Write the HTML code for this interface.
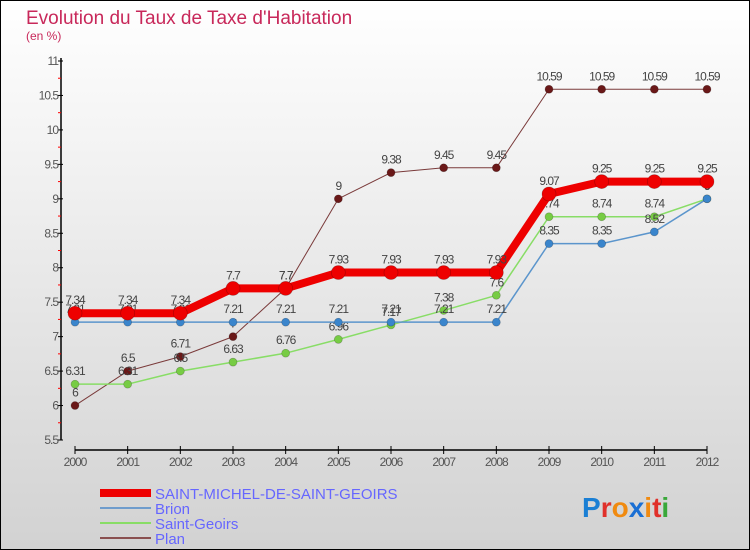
<!DOCTYPE html>
<html><head><meta charset="utf-8"><style>
body{margin:0;}
#wrap{width:750px;height:550px;position:relative;overflow:hidden;}
svg text{font-family:"Liberation Sans",sans-serif;}
</style></head><body>
<div id="wrap">
<svg id="chart" width="750" height="550" xmlns="http://www.w3.org/2000/svg">
<defs><linearGradient id="bg" x1="0" y1="0" x2="0" y2="1"><stop offset="0" stop-color="#ffffff"/><stop offset="1" stop-color="#d2d2d2"/></linearGradient></defs>
<rect x="0.5" y="0.5" width="749" height="549" fill="url(#bg)" stroke="#000"/>
<text x="26" y="24" font-size="19" fill="#c8285a">Evolution du Taux de Taxe d'Habitation</text>
<text x="26" y="40" font-size="12" fill="#c8285a">(en %)</text>
<g id="axes"></g><g id="series"></g>
<g>
<rect x="100" y="489" width="51" height="8" fill="#ee0000"/>
<text x="155" y="499" font-size="15" fill="#6666ff">SAINT-MICHEL-DE-SAINT-GEOIRS</text>
<line x1="100" y1="508" x2="151" y2="508" stroke="#6f9ccc" stroke-width="2"/>
<text x="155" y="514" font-size="15" fill="#6666ff">Brion</text>
<line x1="100" y1="523" x2="151" y2="523" stroke="#88dd66" stroke-width="2"/>
<text x="155" y="529" font-size="15" fill="#6666ff">Saint-Geoirs</text>
<line x1="100" y1="538" x2="151" y2="538" stroke="#8a5050" stroke-width="2"/>
<text x="155" y="544" font-size="15" fill="#6666ff">Plan</text>
</g>
<g font-size="28" font-weight="bold">
<text x="582" y="517"><tspan fill="#1a7fd4">P</tspan><tspan fill="#e0302a">r</tspan><tspan fill="#f08a10">o</tspan><tspan fill="#1a6fd4">x</tspan><tspan fill="#f08a10">i</tspan><tspan fill="#e0302a">t</tspan><tspan fill="#3aa83a">i</tspan></text>
</g>
</svg></div>
<script>
const years=["2000","2001","2002","2003","2004","2005","2006","2007","2008","2009","2010","2011","2012"];
const mainVals=[7.34,7.34,7.34,7.7,7.7,7.93,7.93,7.93,7.93,9.07,9.25,9.25,9.25];
const brionVals=[7.21,7.21,7.21,7.21,7.21,7.21,7.21,7.21,7.21,8.35,8.35,8.52,9];
const geoirsVals=[6.31,6.31,6.5,6.63,6.76,6.96,7.17,7.38,7.6,8.74,8.74,8.74,9];
const planVals=[6,6.5,6.71,7,7.7,9,9.38,9.45,9.45,10.59,10.59,10.59,10.59];
const yTicks=[5.5,6,6.5,7,7.5,8,8.5,9,9.5,10,10.5,11];
const NS="http://www.w3.org/2000/svg";
function xs(i){return 75+i*(707-75)/12;}
function ys(v){return 440-(v-5.5)*(440-61)/5.5;}
function mk(tag,attrs,parent){const e=document.createElementNS(NS,tag);for(const k in attrs)e.setAttribute(k,attrs[k]);parent.appendChild(e);return e;}
const ax=document.getElementById('axes');
const yaxis=mk('line',{x1:61,y1:58,x2:61,y2:440,stroke:'#000','stroke-width':1.5},ax);


yTicks.forEach(t=>{
  mk('line',{x1:58,y1:ys(t),x2:63,y2:ys(t),stroke:'#000'},ax);
  if(t<11)mk('line',{x1:58,y1:ys(t+0.25),x2:61,y2:ys(t+0.25),stroke:'#ff0000'},ax);
  const tx=mk('text',{x:58,y:ys(t)+4,'font-size':12,fill:'#555','text-anchor':'end','letter-spacing':'-1'},ax);
  tx.textContent=String(t);
  
  
});
const xaxis=mk('line',{x1:75,y1:450,x2:707,y2:450,stroke:'#000','stroke-width':1.5},ax);


years.forEach((y,i)=>{
  mk('line',{x1:xs(i),y1:446,x2:xs(i),y2:454,stroke:'#000'},ax);
  const tx=mk('text',{x:xs(i),y:466,'font-size':12,fill:'#555','text-anchor':'middle','letter-spacing':'-1'},ax);
  tx.textContent=y;
  
  
});
const sg=document.getElementById('series');
function series(vals,color,w,r,dot,name){
  const g=mk('g',{},sg);
  
  
  const p=mk('polyline',{points:vals.map((v,i)=>xs(i)+','+ys(v)).join(' '),fill:'none',stroke:color,'stroke-width':w,'stroke-linejoin':'round'},g);
  
  
  vals.forEach((v,i)=>{
    const c=mk('circle',{cx:xs(i),cy:ys(v),r:r,fill:dot,stroke:'rgba(0,0,0,0.25)','stroke-width':0.7},g);
    
    
    const t=mk('text',{x:xs(i),y:ys(v)-9,'font-size':12,fill:'#444','text-anchor':'middle','letter-spacing':'-1'},g);
    t.textContent=String(v);
    
    
  });
}
series(planVals,'#7a3a3a',1,4,'#6a1818','plan-series');
series(geoirsVals,'#88dd66',1.5,4,'#77cc44','saint-geoirs-series');
series(brionVals,'#5b95cc',1.5,4,'#3a85cc','brion-series');
series(mainVals,'#ee0000',8,7,'#ee0000','saint-michel-series');
</script>
</body></html>
